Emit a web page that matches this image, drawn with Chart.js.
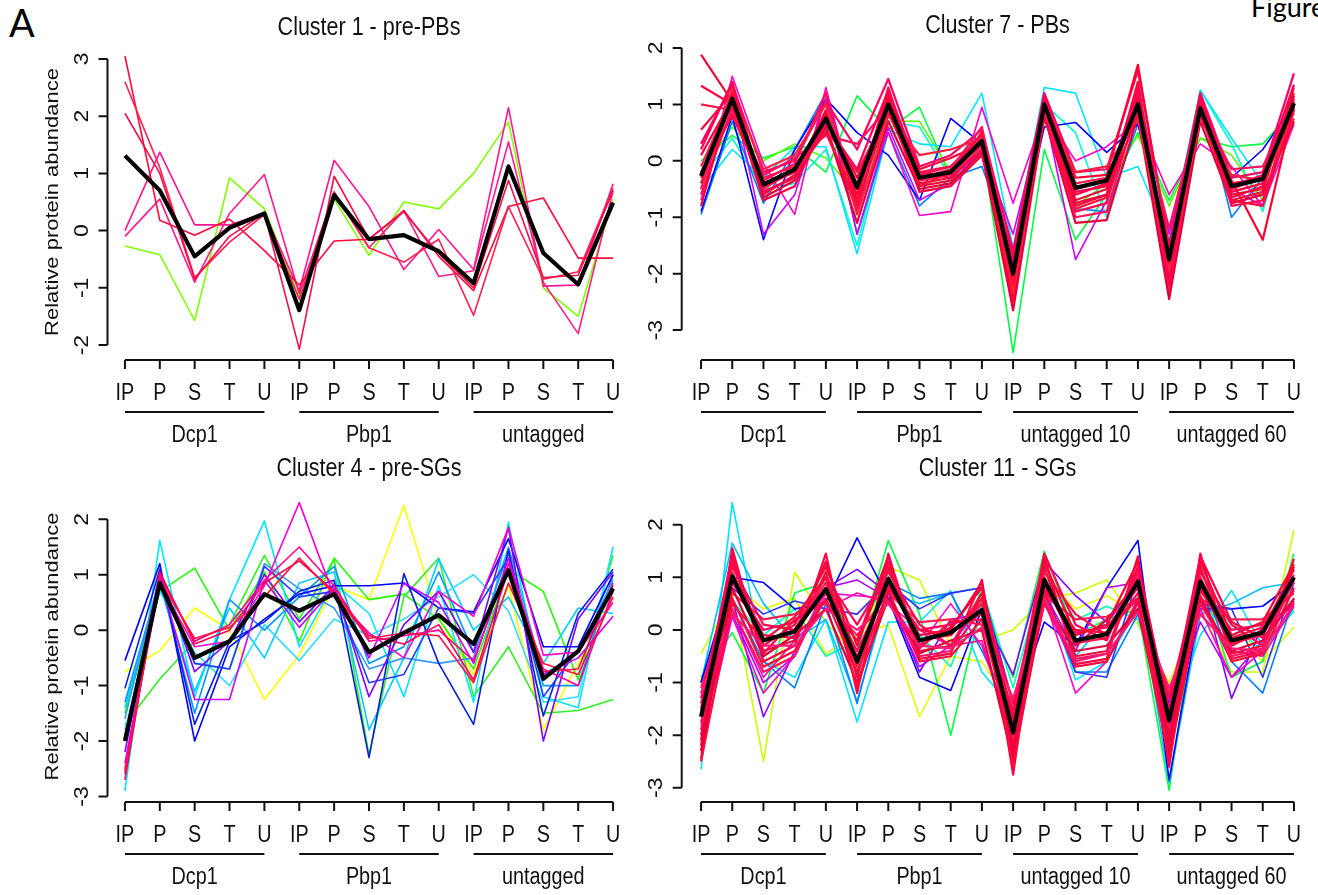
<!DOCTYPE html>
<html>
<head>
<meta charset="utf-8">
<script src="https://cdn.jsdelivr.net/npm/chart.js@4.4.1/dist/chart.umd.min.js"></script>
<style>
  body { margin: 0; background: #fff; width: 1318px; height: 895px; overflow: hidden; position: relative; }
  canvas { position: absolute; }
  #letter { position: absolute; left: 9px; top: 3px; font: 38px/38px Lato, "Open Sans", sans-serif; color: #000; }
  #figword { position: absolute; left: 1251px; top: -7px; font: 27px/27px Lato, "Open Sans", sans-serif; color: #000; white-space: nowrap; }
</style>
</head>
<body>
<div id="letter">A</div>
<div id="figword">Figure</div>
<canvas id="c1" width="659" height="447" style="left:0px;top:0px"></canvas>
<canvas id="c7" width="678" height="447" style="left:640px;top:0px"></canvas>
<canvas id="c4" width="659" height="448" style="left:0px;top:447px"></canvas>
<canvas id="c11" width="678" height="448" style="left:640px;top:447px"></canvas>
<script>
// x categories and group labels
const conditions = ['IP', 'P', 'S', 'T', 'U'];
const groups3 = ['Dcp1', 'Pbp1', 'untagged'];
const groups4 = ['Dcp1', 'Pbp1', 'untagged 10', 'untagged 60'];
const yTicksTop = [-2, -1, 0, 1, 2, 3];
const yTicksStd = [-3, -2, -1, 0, 1, 2];

// ---- Cluster 1 - pre-PBs (lines listed bottom -> top)
const c1Mean = [1.31, 0.70, -0.45, 0.05, 0.30, -1.39, 0.62, -0.15, -0.08, -0.36, -0.92, 1.12, -0.39, -0.94, 0.49];
const c1Lines = [
  [-0.27, -0.42, -1.57, 0.92, 0.38, -1.15, 0.55, -0.43, 0.50, 0.38, 1.00, 1.90, -1.00, -1.50, 0.55],
  [0.00, 1.37, 0.10, 0.10, 0.30, -1.05, 1.23, 0.42, -0.68, 0.02, -0.68, 2.15, -0.97, -0.95, 0.82],
  [-0.10, 0.55, -0.90, 0.30, 0.98, -1.10, 0.65, -0.30, 0.35, -0.80, -0.70, 1.55, -0.90, -1.80, 0.70],
  [3.05, 0.18, -0.08, 0.20, -0.35, -0.95, -0.18, -0.15, 0.35, -0.45, -1.05, 0.42, 0.57, -0.48, -0.48],
  [2.60, 1.10, -0.82, -0.20, 0.28, -1.20, 0.68, -0.30, -0.55, -0.15, -1.48, 0.42, -0.85, -0.72, 0.75],
  [2.05, 1.00, -0.85, -0.10, 0.30, -2.07, 0.95, -0.15, 0.33, -0.40, -1.00, 0.88, -0.82, -0.78, 0.70]
];
const c1Colors = ['#80FF00', '#FF1493', '#FF1A8C', '#FF0A3C', '#FF2050', '#F0104A'];

// ---- Cluster 7 - PBs
const c7Mean = [-0.27, 1.10, -0.42, -0.15, 0.75, -0.47, 1.00, -0.30, -0.20, 0.35, -2.00, 1.00, -0.48, -0.35, 1.00, -1.75, 0.93, -0.45, -0.32, 1.02];
const c7Lines = [
  [0.00, 0.45, 0.05, 0.25, -0.20, 1.15, 0.55, 0.95, -0.30, 0.30, -3.40, 0.20, -1.40, -0.60, 0.50, -0.70, 0.40, 0.25, 0.30, 0.90],
  [-0.20, 0.60, 0.00, 0.30, 0.05, -0.60, 0.70, 0.70, -0.20, 0.40, -1.90, 0.90, -0.80, -0.40, 0.45, -0.80, 0.40, 0.10, -0.70, 1.05],
  [-0.30, 0.40, -0.50, -0.40, 0.20, -1.50, 0.70, 0.60, -0.30, 0.50, -1.70, 1.00, 0.50, -1.00, 1.40, -1.70, 1.25, 0.30, -0.90, 1.00],
  [-0.50, 0.20, -0.30, 0.25, 0.25, -1.65, 0.55, 0.30, 0.25, 1.20, -1.55, 1.30, 1.20, -0.30, -0.10, -1.40, 1.25, 0.40, -0.40, 1.10],
  [-0.95, 0.70, -0.75, 0.20, 1.20, -1.30, 0.50, -0.80, -0.30, -0.10, -1.60, 1.20, -0.85, -0.90, 0.65, -1.50, 1.20, -1.00, -0.30, 1.05],
  [-0.90, 0.80, -1.40, 0.20, 1.10, 0.50, 0.10, -0.70, 0.75, 0.30, -1.80, 0.60, 0.68, 0.15, 0.65, -1.50, 1.05, -0.30, 0.20, 1.00],
  [-0.50, 1.20, -1.30, -0.60, 1.10, -1.30, 0.60, -0.70, -0.40, 0.20, -1.30, 0.90, -1.75, -0.70, 1.20, -1.30, 1.00, -0.50, -0.80, 0.90],
  [-0.70, 1.50, -0.05, -0.95, 1.30, -0.80, 0.50, -0.97, -0.90, 0.95, -0.75, 0.85, 0.00, 0.25, 0.70, -0.60, 0.30, -0.10, -0.80, 0.65],
  [1.88, 1.05, -0.55, -0.30, 0.60, -0.90, 1.20, -0.45, -0.35, 0.30, -2.30, 1.10, -0.70, -0.50, 1.20, -2.10, 1.00, -0.70, -0.55, 1.30],
  [1.33, 1.00, -0.40, -0.20, 0.80, -0.60, 1.10, -0.30, -0.20, 0.40, -2.10, 0.95, -0.60, -0.40, 1.05, -1.90, 0.90, -0.55, -0.40, 1.10],
  [1.00, 0.90, -0.30, -0.10, 0.70, -0.40, 0.95, -0.20, -0.10, 0.35, -1.90, 1.05, -0.40, -0.30, 0.95, -1.70, 0.95, -0.40, -0.30, 0.95],
  [0.55, 1.20, -0.60, -0.25, 0.90, -0.70, 1.30, -0.40, -0.30, 0.50, -2.40, 1.15, -0.80, -0.60, 1.40, -2.00, 1.10, -0.60, -0.50, 1.20],
  [0.30, 1.35, -0.20, 0.00, 1.05, 0.20, 1.45, -0.10, 0.10, 0.55, -1.60, 1.20, -0.20, -0.15, 1.60, -1.50, 1.20, -0.30, -0.20, 1.55],
  [-0.10, 1.15, -0.50, -0.15, 0.55, -0.20, 0.85, -0.35, -0.25, 0.25, -2.20, 0.90, -0.50, -0.35, 0.90, -2.30, 0.85, -0.50, -0.30, 0.85],
  [-0.40, 1.05, -0.65, -0.35, 0.60, -1.10, 0.70, -0.50, -0.40, 0.15, -2.65, 0.80, -1.10, -1.05, 0.80, -2.45, 0.70, -0.75, -0.60, 0.70],
  [-0.60, 0.95, -0.35, -0.05, 1.20, -0.85, 1.05, -0.25, -0.10, 0.45, -1.80, 1.00, -0.90, -0.75, 1.20, -1.80, 1.05, -0.80, -0.70, 1.05],
  [-0.80, 1.25, -0.45, -0.20, 0.85, -0.50, 1.15, -0.15, 0.05, 0.30, -2.50, 1.10, -0.30, -0.25, 1.70, -1.60, 0.80, -0.35, -1.40, 0.95],
  [-0.30, 0.85, -0.25, 0.05, 0.45, 0.30, 0.95, -0.30, -0.15, 0.60, -1.90, 0.95, -1.00, -0.90, 1.00, -1.20, 0.95, -0.15, -0.10, 1.05],
  [0.10, 1.10, -0.70, -0.45, 0.75, -0.30, 1.00, -0.55, -0.45, 0.10, -2.00, 1.05, -0.75, -0.60, 1.10, -1.85, 1.00, -0.65, -0.45, 1.15],
  [-0.50, 1.30, -0.15, 0.10, 1.00, -0.95, 0.80, 0.10, 0.20, 0.40, -2.35, 0.85, -0.20, -0.10, 0.75, -1.95, 0.75, -0.25, -0.35, 0.75],
  [0.20, 1.40, -0.55, -0.30, 0.65, -0.15, 1.25, -0.20, -0.30, 0.20, -1.70, 1.15, -0.55, -0.45, 1.30, -2.20, 1.15, -0.45, -0.25, 1.35],
  [-0.20, 0.80, -0.40, -0.20, 0.50, -0.75, 0.90, -0.45, -0.20, 0.50, -2.20, 0.75, -0.85, -0.65, 0.85, -1.65, 0.85, -0.70, -0.80, 0.90]
];
const c7Colors = ['#00FF40', '#55FF00', '#00FFCC', '#00E5FF', '#0080FF', '#0000FF', '#CC00FF', '#FF00CC',
  '#E8103A', '#FF0040', '#FF1A4A', '#F50A3A', '#FF0066', '#FF2050', '#E0003A', '#FF0A50', '#FF0030', '#FF1060',
  '#F00040', '#FF2040', '#FF0050', '#FF0A3C'];

// ---- Cluster 4 - pre-SGs
const c4Mean = [-2.00, 0.85, -0.50, -0.20, 0.65, 0.35, 0.65, -0.40, -0.05, 0.27, -0.25, 1.08, -0.88, -0.38, 0.75];
const c4Lines = [
  [-0.75, -0.37, 0.40, 0.00, -1.25, -0.45, 0.80, 0.55, 2.25, 0.20, -0.80, 0.80, -1.80, -0.60, 0.60],
  [-1.70, -0.88, -0.20, 0.10, 1.35, 0.20, 1.28, -2.25, 0.60, 1.30, -1.20, -0.30, -1.50, -1.45, -1.25],
  [-1.50, 0.70, 1.12, 0.00, 1.05, -0.20, 1.30, 0.55, 0.65, 0.20, -0.70, 1.10, 0.70, -0.90, 1.35],
  [-2.90, 1.62, -1.20, 0.55, 1.97, -0.30, 0.85, 0.30, -1.20, 0.80, -1.30, 1.95, -1.20, -1.40, 1.50],
  [-1.40, 0.80, -1.10, 0.40, -0.50, 0.85, 1.05, -1.80, -0.50, 1.28, 0.00, 0.60, -0.60, 0.40, 0.30],
  [-1.80, 0.70, -0.40, -1.00, 0.10, -0.55, 0.20, -0.10, 0.20, 0.60, 1.00, 0.35, -1.30, -1.20, 1.50],
  [-1.30, 0.90, -1.50, 0.55, 0.00, 0.60, 1.15, -0.60, -0.30, 1.05, -0.40, 1.40, -1.00, -1.00, 1.00],
  [-1.60, 1.00, -0.60, -0.70, 1.20, 0.75, 0.40, -0.70, -0.50, -0.60, -0.50, 1.50, -0.80, -0.40, 0.90],
  [-0.55, 1.20, -2.00, -0.30, 0.20, 0.65, 0.80, 0.80, 0.85, 0.40, 0.33, 1.65, -0.30, -0.30, 1.00],
  [-1.05, 1.10, -1.70, -0.20, 0.15, 0.70, 0.90, -2.30, 1.02, -0.60, -1.70, 1.45, -1.55, 0.30, 1.10],
  [-1.90, 0.95, -0.60, -0.70, 1.15, 0.60, 0.70, -0.95, -0.80, 0.40, 0.30, 1.30, -1.20, -0.35, 0.80],
  [-2.20, 1.05, -0.75, -0.20, 1.00, 0.15, 0.80, -1.20, 0.10, 0.70, -0.40, 1.85, -2.00, 0.20, 1.05],
  [-2.40, 0.95, -1.25, -1.25, 0.90, 0.05, 0.75, -0.50, 0.85, 0.50, -0.60, 1.30, -0.80, -0.50, 0.25],
  [-2.50, 0.85, -0.30, -0.20, 0.80, 2.30, 0.60, -0.05, -0.50, 0.70, 0.25, 1.85, -0.45, -0.40, 0.50],
  [-2.60, 1.00, -0.20, 0.10, 0.90, 1.50, 0.80, -0.20, -0.10, 0.00, -0.55, 1.20, -0.70, -1.00, 0.70],
  [-2.70, 1.05, -0.25, 0.00, 0.85, 1.25, 0.70, -0.10, -0.25, 0.10, -0.90, 1.10, -0.75, -0.70, 0.85],
  [-2.55, 0.90, -0.15, 0.05, 0.60, 1.30, 0.65, -0.15, -0.05, -0.10, -0.95, 0.85, -0.60, -0.80, 0.60]
];
const c4Colors = ['#FFFF00', '#33EE22', '#22FF00', '#00E5FF', '#00CCFF', '#33DDFF', '#0099FF', '#3399FF',
  '#0000FF', '#0020E0', '#2040FF', '#8000FF', '#CC00FF', '#FF00CC', '#FF0099', '#FF0050', '#FF1040'];

// ---- Cluster 11 - SGs
const c11Mean = [-1.65, 1.02, -0.20, -0.03, 0.78, -0.60, 0.97, -0.20, -0.05, 0.38, -1.95, 0.95, -0.20, -0.08, 0.92, -1.72, 0.92, -0.20, -0.05, 1.00];
const c11Lines = [
  [-0.45, 0.65, -2.50, 1.10, 0.15, -0.50, 1.20, 0.95, -0.30, -0.20, 0.00, 0.60, 0.70, 0.95, 0.10, -1.00, 0.40, -0.80, -0.80, 1.90],
  [-1.00, 0.90, 0.40, 0.60, -0.45, -0.10, 0.10, -1.65, -0.50, -0.60, -1.50, 1.00, 0.40, 0.65, 0.30, -1.20, 0.60, 0.20, -0.60, 0.05],
  [-0.90, -0.05, -1.20, 0.70, 0.90, -0.40, 1.70, 0.30, -2.00, 0.50, -0.90, 1.50, -0.10, 0.20, 0.40, -3.05, 1.00, -0.90, -0.60, 1.45],
  [-1.20, 0.55, -0.10, 0.40, -0.50, -0.20, 1.10, -0.10, -0.70, 0.80, -1.10, 1.10, 0.20, 0.45, 0.20, -1.50, 0.80, 0.10, -0.40, 0.40],
  [-2.65, 2.42, -0.60, -0.90, 0.20, -1.75, 0.15, 0.15, 0.75, -0.80, -1.50, 0.90, -0.95, -0.60, 0.40, -1.80, -0.10, 0.75, -0.30, 0.35],
  [-1.00, 1.65, 0.50, -0.20, 0.20, -1.35, 0.70, 0.50, 0.70, 0.80, -2.00, 1.20, -0.50, 0.20, 0.80, -2.90, 0.30, 0.50, 0.80, 0.90],
  [-1.00, 0.60, -0.60, -1.10, 0.50, -1.40, 0.90, 0.60, 0.70, -0.40, -1.60, 0.60, -0.80, -0.80, 0.30, -2.00, 1.00, -0.60, -1.20, 0.60],
  [-1.00, 1.00, 0.90, 0.40, 0.50, 1.75, 0.60, -0.90, -1.15, 0.40, -1.60, 0.15, -0.30, 0.80, 1.70, -2.85, 0.50, 0.40, 0.45, 0.90],
  [-1.20, 0.80, 0.30, 0.55, 0.40, 0.30, 0.90, 0.40, 0.70, 0.80, -1.40, 0.80, -0.80, -0.90, 1.00, -1.80, 0.40, 0.40, -0.90, 0.90],
  [-1.80, 0.60, -1.65, -0.40, 0.80, 1.15, 0.70, -0.80, 0.20, 0.30, -0.85, 1.30, 0.65, 0.15, 0.80, -1.40, 1.00, -1.30, 0.10, 0.45],
  [-2.00, 0.30, -1.00, -0.50, 0.80, 0.95, 0.60, -0.70, -0.30, 0.50, -1.90, 0.70, -0.40, 0.80, 0.90, -1.60, 0.15, -0.90, -0.20, 0.55],
  [-2.30, 0.25, -1.20, -0.50, 0.70, 0.65, 0.60, -0.30, 0.50, -0.30, -2.00, 0.60, -1.20, -0.60, 0.60, -2.00, 0.40, -0.90, -0.40, 0.50],
  [-2.10, 0.40, -0.90, -0.20, 0.40, 0.70, 0.50, 0.00, -0.30, -0.20, -2.20, 0.50, -0.70, -0.60, 0.50, -2.20, 0.50, -0.40, -0.50, 0.45],
  [-2.45, 1.55, -0.60, -0.30, 1.45, -1.20, 1.45, -0.55, -0.45, 0.95, -2.75, 1.40, -0.65, -0.55, 1.40, -2.60, 1.45, -0.55, -0.40, 1.35],
  [-2.20, 1.30, -0.40, -0.20, 1.10, -0.90, 1.20, -0.40, -0.30, 0.70, -2.40, 1.20, -0.50, -0.40, 1.20, -2.30, 1.20, -0.45, -0.30, 1.20],
  [-1.90, 1.10, -0.20, 0.00, 0.90, -0.70, 1.00, -0.20, -0.10, 0.50, -2.10, 1.00, -0.25, -0.15, 1.00, -1.95, 1.00, -0.25, -0.10, 1.05],
  [-1.40, 0.90, 0.00, 0.15, 0.70, -0.40, 0.85, 0.00, 0.10, 0.30, -1.80, 0.80, -0.05, 0.05, 0.80, -1.50, 0.80, 0.00, 0.10, 0.90],
  [-1.10, 0.70, 0.20, 0.30, 0.50, -0.10, 0.70, 0.15, 0.20, 0.10, -1.50, 0.65, 0.20, 0.25, 0.60, -1.20, 0.60, 0.20, 0.20, 0.70],
  [-2.00, 0.60, -0.70, -0.40, 0.60, -0.80, 0.75, -0.60, -0.50, 0.20, -2.20, 0.70, -0.70, -0.60, 0.55, -2.00, 0.65, -0.60, -0.45, 0.80],
  [-1.60, 1.40, -0.30, 0.10, 1.20, -0.30, 1.30, -0.30, 0.05, 0.80, -1.70, 1.30, -0.10, 0.10, 1.30, -1.70, 1.30, -0.10, 0.15, 1.25],
  [-2.30, 0.80, -0.50, -0.10, 0.40, -1.00, 0.60, -0.45, -0.20, 0.00, -2.50, 0.55, -0.40, -0.30, 0.40, -2.40, 0.55, -0.40, -0.20, 0.60],
  [-1.30, 1.20, 0.10, 0.00, 1.00, 0.10, 1.10, 0.10, -0.30, 0.60, -1.40, 1.10, 0.30, -0.10, 0.70, -1.30, 1.10, 0.10, -0.30, 1.00],
  [-1.75, 0.40, -0.80, -0.50, 0.80, -0.50, 0.55, -0.50, -0.40, 0.40, -2.00, 0.50, -0.55, -0.45, 1.10, -1.85, 0.50, -0.50, -0.35, 0.95],
  [-2.10, 1.00, -0.10, -0.15, 1.30, -0.60, 0.90, -0.10, 0.00, 0.90, -2.30, 0.90, -0.30, 0.20, 0.90, -2.10, 0.85, -0.30, 0.00, 1.15],
  [-1.50, 1.45, -0.45, 0.20, 0.55, -0.20, 1.40, -0.35, 0.15, 0.20, -1.60, 1.45, 0.10, -0.20, 1.20, -1.55, 1.40, 0.15, -0.15, 0.55],
  [-1.20, 0.30, -0.30, -0.30, 0.40, 0.00, 0.50, -0.30, -0.35, 0.05, -1.30, 0.60, -0.60, -0.45, 0.35, -1.10, 0.30, -0.35, -0.40, 0.50],
  [-2.50, 0.50, -0.20, 0.25, 1.00, -1.10, 0.80, 0.00, -0.10, 0.60, -2.60, 0.75, 0.00, -0.05, 0.60, -2.50, 0.75, -0.15, 0.05, 0.75]
];
const c11Colors = ['#CCFF00', '#E5FF00', '#00FF40', '#00FFB0', '#00E5FF', '#00BFFF', '#0080FF', '#0000FF',
  '#3030FF', '#8000FF', '#B000FF', '#FF00CC', '#FF00AA',
  '#FF0040', '#E8103A', '#FF1A4A', '#FF0066', '#FF2050', '#F50A3A', '#FF0030', '#E0003A', '#FF0A50',
  '#FF1060', '#F00040', '#FF0050', '#FF1A75', '#FF0A3C'];

// text is squeezed horizontally, like in the original figure
function squeezed(ctx, s, x, y, size, rotate) {
  ctx.save();
  ctx.translate(x, y);
  if (rotate) {
    ctx.rotate(-Math.PI / 2);
    ctx.scale(1, 0.86);
  } else {
    ctx.scale(0.86, 1);
  }
  ctx.font = size + 'px "Liberation Sans", Arial, sans-serif';
  ctx.fillText(s, 0, 0);
  ctx.restore();
}

// R-style axes, labels and titles
const rAxes = {
  id: 'rAxes',
  beforeDatasetsDraw(chart, args, opts) {
    const { ctx, chartArea: a, scales: { x, y } } = chart;
    const n = opts.groups.length * conditions.length;
    const t = opts.yTicks;
    ctx.save();
    ctx.strokeStyle = '#111';
    ctx.fillStyle = '#111';
    ctx.lineWidth = 2;
    ctx.beginPath();
    // y axis
    ctx.moveTo(a.left, y.getPixelForValue(t[0]));
    ctx.lineTo(a.left, y.getPixelForValue(t[t.length - 1]));
    t.forEach(v => {
      const py = y.getPixelForValue(v);
      ctx.moveTo(a.left, py);
      ctx.lineTo(a.left - 9, py);
    });
    // x axis
    ctx.moveTo(x.getPixelForValue(0), a.bottom);
    ctx.lineTo(x.getPixelForValue(n - 1), a.bottom);
    for (let i = 0; i < n; i++) {
      const px = x.getPixelForValue(i);
      ctx.moveTo(px, a.bottom);
      ctx.lineTo(px, a.bottom + 9);
    }
    // group underlines
    opts.groups.forEach((g, k) => {
      ctx.moveTo(x.getPixelForValue(k * 5), a.bottom + 52);
      ctx.lineTo(x.getPixelForValue(k * 5 + 4), a.bottom + 52);
    });
    ctx.stroke();

    ctx.textAlign = 'center';
    ctx.textBaseline = 'middle';
    for (let i = 0; i < n; i++) {
      squeezed(ctx, conditions[i % 5], x.getPixelForValue(i), a.bottom + 34, 23, false);
    }
    opts.groups.forEach((g, k) => {
      squeezed(ctx, g, x.getPixelForValue(k * 5 + 2), a.bottom + 76, 23, false);
    });
    t.forEach(v => {
      squeezed(ctx, String(v), a.left - 25, y.getPixelForValue(v), 23, true);
    });
    if (opts.yTitle) {
      squeezed(ctx, opts.yTitle, a.left - 55, (a.top + a.bottom) / 2, 22, true);
    }
    squeezed(ctx, opts.title, (a.left + a.right) / 2, a.top - opts.titleGap, 25, false);
    ctx.restore();
  }
};

function makePanel(id, title, groups, yTicks, yTitle, mean, lines, colors, box) {
  const n = groups.length * conditions.length;
  const datasets = lines.map((vals, i) => ({
    data: vals.map((v, k) => ({ x: k, y: v })),
    borderColor: colors[i],
    borderWidth: i >= box.boldFrom ? 2.2 : 1.6,
    order: lines.length - i + 1,
    clip: false
  }));
  datasets.push({
    data: mean.map((v, k) => ({ x: k, y: v })),
    borderColor: '#000',
    borderWidth: 4.2,
    order: 0,
    clip: false
  });
  return new Chart(document.getElementById(id), {
    type: 'line',
    data: { datasets },
    options: {
      responsive: false,
      animation: false,
      events: [],
      layout: { padding: box.pad },
      elements: { point: { radius: 0 }, line: { tension: 0, borderJoinStyle: 'round' } },
      scales: {
        x: { type: 'linear', display: false, min: box.xmin, max: n - 1 - box.xmin },
        y: { type: 'linear', display: false, min: box.ymin, max: box.ymax }
      },
      plugins: {
        legend: { display: false },
        tooltip: { enabled: false },
        rAxes: { title, groups, yTicks, yTitle, titleGap: box.titleGap }
      }
    },
    plugins: [rAxes]
  });
}

makePanel('c1', 'Cluster 1 - pre-PBs', groups3, yTicksTop, 'Relative protein abundance', c1Mean, c1Lines, c1Colors,
  { pad: { left: 107.5, right: 28.5, top: 44, bottom: 87 }, xmin: -0.5, ymin: -2.26, ymax: 3.26, titleGap: 16, boldFrom: 99 });
makePanel('c7', 'Cluster 7 - PBs', groups4, yTicksStd, null, c7Mean, c7Lines, c7Colors,
  { pad: { left: 41.7, right: 4.7, top: 44, bottom: 87 }, xmin: -0.62, ymin: -3.53, ymax: 2.07, titleGap: 18, boldFrom: 8 });
makePanel('c4', 'Cluster 4 - pre-SGs', groups3, yTicksStd, 'Relative protein abundance', c4Mean, c4Lines, c4Colors,
  { pad: { left: 107.5, right: 28.5, top: 44, bottom: 93 }, xmin: -0.5, ymin: -3.1, ymax: 2.51, titleGap: 22, boldFrom: 99 });
makePanel('c11', 'Cluster 11 - SGs', groups4, yTicksStd, null, c11Mean, c11Lines, c11Colors,
  { pad: { left: 41.7, right: 4.7, top: 44, bottom: 93 }, xmin: -0.62, ymin: -3.27, ymax: 2.64, titleGap: 22, boldFrom: 13 });
</script>
</body>
</html>
